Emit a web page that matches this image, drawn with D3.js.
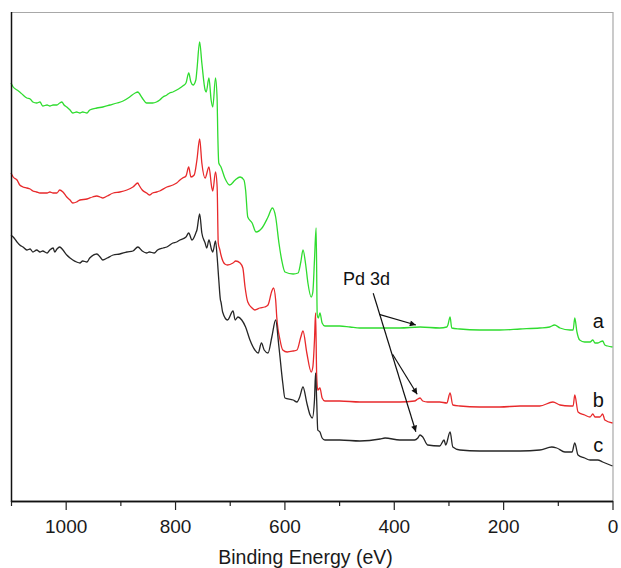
<!DOCTYPE html>
<html>
<head>
<meta charset="utf-8">
<script src="https://cdn.jsdelivr.net/npm/d3@7"></script>
<style>
  body { margin: 0; background: #fff; }
  svg { display: block; font-family: "Liberation Sans", Arial, Helvetica, sans-serif; }
</style>
</head>
<body>
<svg id="chart" width="621" height="568"></svg>
<script>
// XPS survey spectra, binding energy (eV) vs intensity (a.u., offset per trace)
const majorTicks = [1000, 800, 600, 400, 200, 0];
const minorTicks = [1100, 900, 700, 500, 300, 100];

// trace a (green)
const seriesA = [
  [1100, 418], [1096, 414], [1089, 411], [1084, 409], [1078, 406], [1071, 403], [1065, 402],
  [1060, 399], [1053, 398], [1047, 399], [1042, 395], [1034, 396], [1029, 395], [1023, 396],
  [1016, 396], [1011, 398], [1007, 399], [1003, 396], [998, 394], [992, 391], [987, 388],
  [980, 389], [974, 388], [969, 389], [961, 388], [956, 391], [943, 393], [932, 394],
  [919, 396], [906, 398], [895, 400], [883, 404], [873, 408], [868, 409], [866, 408],
  [860, 403], [852, 398], [847, 398], [841, 398], [834, 399], [828, 401], [822, 404],
  [815, 406], [810, 408], [804, 409], [797, 411], [791, 413], [786, 415], [780, 418],
  [775, 428], [771, 419], [767, 416], [762, 421], [760, 431], [755, 459], [751, 438],
  [745, 411], [743, 409], [738, 423], [734, 401], [731, 394], [726, 423], [723, 401],
  [722, 371], [720, 338], [716, 334], [709, 323], [700, 316], [690, 321], [681, 324],
  [674, 321], [671, 311], [667, 284], [659, 278], [652, 269], [641, 273], [630, 284],
  [622, 293], [616, 284], [610, 258], [605, 241], [599, 229], [584, 227], [575, 228],
  [570, 239], [566, 251], [561, 236], [557, 218], [551, 204], [548, 209], [545, 241],
  [542, 273], [540, 186], [538, 183], [535, 188], [531, 178], [526, 175], [499, 175],
  [480, 174], [462, 173], [425, 173], [389, 173], [352, 174], [316, 173], [303, 174],
  [301, 176], [297, 184], [294, 173], [279, 172], [243, 171], [206, 171], [169, 172],
  [133, 173], [115, 174], [106, 176], [96, 173], [78, 171], [72, 171], [69, 183],
  [65, 169], [60, 161], [51, 159], [41, 159], [36, 161], [32, 158], [27, 158],
  [23, 159], [18, 160], [14, 156], [9, 155], [0, 154]
];

// trace b (red)
const seriesB = [
  [1100, 328], [1096, 324], [1089, 321], [1084, 316], [1078, 314], [1071, 313], [1065, 312],
  [1060, 310], [1053, 309], [1047, 308], [1042, 308], [1034, 308], [1029, 309], [1023, 308],
  [1016, 308], [1011, 311], [1005, 309], [998, 304], [992, 301], [987, 298], [980, 299],
  [974, 301], [961, 302], [951, 304], [943, 305], [937, 304], [932, 303], [924, 305],
  [913, 308], [901, 309], [888, 311], [877, 314], [868, 318], [866, 316], [860, 311],
  [852, 308], [847, 306], [841, 308], [834, 309], [828, 310], [815, 314], [804, 316],
  [797, 318], [791, 321], [786, 323], [780, 325], [775, 334], [771, 324], [765, 326],
  [760, 341], [755, 362], [751, 338], [745, 323], [738, 334], [733, 314], [731, 310],
  [726, 329], [723, 314], [721, 258], [718, 251], [716, 246], [709, 237], [704, 236],
  [694, 238], [689, 240], [681, 238], [676, 233], [672, 214], [667, 199], [659, 193],
  [654, 191], [645, 193], [636, 194], [630, 196], [623, 210], [620, 213], [616, 201],
  [614, 184], [608, 161], [603, 151], [595, 149], [584, 150], [577, 151], [570, 164],
  [566, 170], [559, 148], [551, 129], [548, 134], [545, 161], [543, 188], [541, 126],
  [539, 111], [535, 113], [531, 103], [526, 100], [499, 100], [462, 99], [425, 99],
  [389, 99], [362, 100], [356, 102], [352, 103], [347, 100], [338, 99], [316, 99],
  [303, 98], [297, 108], [292, 96], [279, 95], [243, 94], [206, 94], [169, 95],
  [133, 95], [109, 99], [96, 96], [78, 95], [72, 95], [69, 106], [63, 89],
  [51, 86], [41, 84], [36, 87], [32, 84], [23, 84], [18, 87], [14, 81], [0, 78]
];

// trace c (black)
const seriesC = [
  [1100, 266], [1096, 264], [1089, 259], [1084, 256], [1078, 254], [1071, 251], [1065, 252],
  [1060, 249], [1053, 251], [1047, 249], [1042, 250], [1034, 248], [1029, 251], [1023, 253],
  [1020, 249], [1016, 252], [1011, 254], [1005, 251], [998, 246], [992, 243], [987, 241],
  [980, 239], [974, 238], [969, 240], [961, 239], [956, 243], [943, 247], [937, 244],
  [932, 241], [924, 243], [913, 246], [901, 247], [888, 249], [877, 250], [868, 254],
  [860, 250], [852, 248], [847, 249], [838, 248], [832, 251], [822, 253], [815, 254],
  [804, 258], [797, 259], [791, 261], [780, 264], [775, 268], [769, 261], [762, 268],
  [760, 271], [755, 287], [751, 268], [745, 258], [742, 253], [738, 261], [733, 251],
  [731, 249], [726, 260], [723, 244], [720, 221], [717, 201], [716, 199], [713, 189],
  [704, 181], [694, 190], [690, 181], [685, 184], [678, 181], [671, 174], [663, 161],
  [654, 151], [648, 148], [642, 158], [637, 151], [630, 148], [623, 164], [616, 181],
  [610, 154], [603, 118], [599, 103], [584, 101], [577, 99], [572, 104], [566, 114],
  [559, 98], [553, 86], [549, 83], [545, 101], [543, 128], [541, 101], [539, 71],
  [535, 69], [531, 63], [526, 61], [499, 61], [462, 60], [425, 62], [416, 63],
  [389, 61], [362, 61], [356, 63], [352, 66], [347, 64], [338, 56], [316, 55],
  [308, 61], [305, 56], [297, 69], [292, 54], [279, 51], [243, 50], [206, 50],
  [169, 50], [133, 51], [111, 54], [102, 53], [87, 49], [74, 49], [69, 58],
  [63, 46], [51, 43], [41, 41], [27, 41], [18, 39], [9, 37], [0, 35]
];

const traces = [
  { key: "a", data: seriesA, color: "#2fdc2f", labelAt: [26, 173] },
  { key: "b", data: seriesB, color: "#e8292b", labelAt: [26, 94] },
  { key: "c", data: seriesC, color: "#262626", labelAt: [26, 49] }
];

// Pd 3d annotation, in data units [BE, intensity]
const pdLabel = [493, 216];
const pdArrows = [
  [[437.6, 207.7], [359.6, 69.3]],
  [[426.7, 186.7], [359.6, 176]],
  [[402.2, 146.7], [357.2, 106.7]]
];

const svg = d3.select("#chart");
const W = +svg.attr("width"), H = +svg.attr("height");
const margin = { top: 12, right: 8.5, bottom: 67, left: 11 };

const x = d3.scaleLinear().domain([1100, 0]).range([margin.left, W - margin.right]);
const y = d3.scaleLinear().domain([0, 489]).range([H - margin.bottom, margin.top]);

// frame: top / right light grey
svg.append("path")
  .attr("d", `M${x(1100)},${y(489) + 0.5}H${x(0) + 0.5}V${y(0)}`)
  .attr("fill", "none")
  .attr("stroke", "#a8a8a8")
  .attr("stroke-width", 1.2);

svg.append("defs").append("marker")
  .attr("id", "arrow")
  .attr("viewBox", "0 0 10 10")
  .attr("refX", 10).attr("refY", 5)
  .attr("markerWidth", 9).attr("markerHeight", 6)
  .attr("markerUnits", "userSpaceOnUse")
  .attr("orient", "auto")
  .append("path")
  .attr("d", "M0,0L10,5L0,10Z")
  .attr("fill", "#111");

const line = d3.line()
  .x(d => x(d[0]))
  .y(d => y(d[1]))
  .curve(d3.curveMonotoneX);

svg.append("g").selectAll("path")
  .data(traces)
  .join("path")
  .attr("d", d => line(d.data))
  .attr("fill", "none")
  .attr("stroke", d => d.color)
  .attr("stroke-width", 1.3)
  .attr("stroke-linejoin", "round");

svg.append("g").selectAll("text")
  .data(traces)
  .join("text")
  .attr("x", d => x(d.labelAt[0]))
  .attr("y", d => y(d.labelAt[1]))
  .attr("text-anchor", "middle")
  .attr("font-size", 20)
  .attr("fill", "#111")
  .text(d => d.key);

svg.append("text")
  .attr("x", x(pdLabel[0]))
  .attr("y", y(pdLabel[1]))
  .attr("font-size", 18)
  .attr("fill", "#111")
  .text("Pd 3d");

svg.append("g").selectAll("line")
  .data(pdArrows)
  .join("line")
  .attr("x1", d => x(d[0][0])).attr("y1", d => y(d[0][1]))
  .attr("x2", d => x(d[1][0])).attr("y2", d => y(d[1][1]))
  .attr("stroke", "#111")
  .attr("stroke-width", 1.2)
  .attr("marker-end", "url(#arrow)");

// left axis line
svg.append("line")
  .attr("x1", x(1100) + 0.5).attr("x2", x(1100) + 0.5)
  .attr("y1", y(489)).attr("y2", y(0) + 1)
  .attr("stroke", "#111")
  .attr("stroke-width", 1.5);

// bottom axis
const gx = svg.append("g").attr("transform", `translate(0,${y(0)})`);
gx.call(d3.axisBottom(x).tickValues(minorTicks).tickSize(5).tickSizeOuter(0).tickFormat(""));
gx.append("g").call(d3.axisBottom(x).tickValues(majorTicks).tickSize(9).tickSizeOuter(0).tickPadding(9.5)
  .tickFormat(d3.format("d")));
gx.selectAll(".domain").attr("stroke", "#111").attr("stroke-width", 1.5);
gx.selectAll(".tick line").attr("stroke", "#222").attr("stroke-width", 1.2);
gx.selectAll(".tick text")
  .attr("font-family", "'Liberation Sans', Arial, sans-serif")
  .attr("font-size", 19)
  .attr("fill", "#1a1a1a");

svg.append("text")
  .attr("x", 305.5)
  .attr("y", 564)
  .attr("text-anchor", "middle")
  .attr("font-size", 19.5)
  .attr("fill", "#1a1a1a")
  .text("Binding Energy (eV)");
</script>
</body>
</html>
